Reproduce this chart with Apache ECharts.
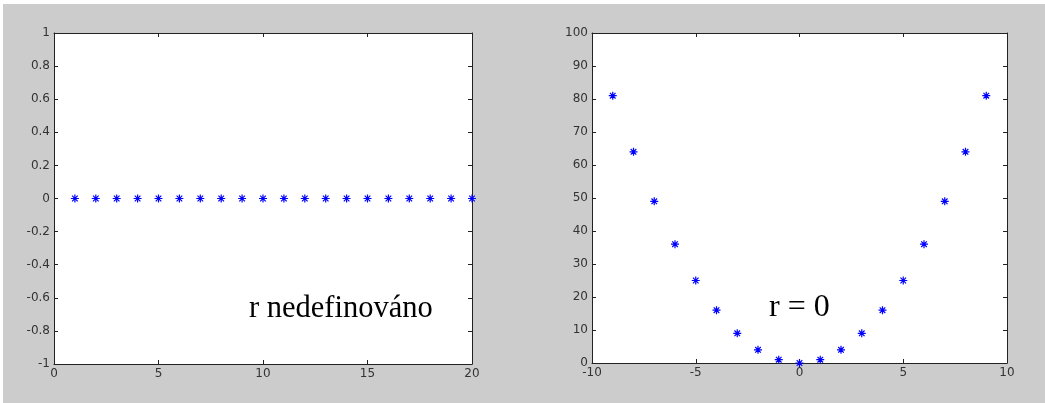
<!DOCTYPE html>
<html>
<head>
<meta charset="utf-8">
<script src="https://cdn.jsdelivr.net/npm/echarts@6/dist/echarts.min.js"></script>
<style>
  html, body { margin: 0; padding: 0; background: #ffffff; }
  #chart { width: 1045px; height: 403px; }
</style>
</head>
<body>
<div id="chart"></div>
<script>
// Left panel: constant function y = 0 sampled at x = 1..20
const leftX = [1, 2, 3, 4, 5, 6, 7, 8, 9, 10, 11, 12, 13, 14, 15, 16, 17, 18, 19, 20];
const leftY = [0, 0, 0, 0, 0, 0, 0, 0, 0, 0, 0, 0, 0, 0, 0, 0, 0, 0, 0, 0];
// Right panel: parabola y = x^2 sampled at x = -9..9
const rightX = [-9, -8, -7, -6, -5, -4, -3, -2, -1, 0, 1, 2, 3, 4, 5, 6, 7, 8, 9];
const rightY = [81, 64, 49, 36, 25, 16, 9, 4, 1, 0, 1, 4, 9, 16, 25, 36, 49, 64, 81];

// Axis ranges and tick steps
const leftXRange = { min: 0, max: 20, interval: 5 };
const leftYRange = { min: -1, max: 1, interval: 0.2 };
const rightXRange = { min: -10, max: 10, interval: 5 };
const rightYRange = { min: 0, max: 100, interval: 10 };

// Panel annotations
const leftNote = 'r nedefinováno';
const rightNote = 'r = 0';

const asterisk = 'path://M0,4L8,4M4,0L4,8M1.2,1.2L6.8,6.8M6.8,1.2L1.2,6.8';
const axisColor = '#222222';
const labelColor = '#333333';

function axis(type, grid, range, position, showLabel) {
  return Object.assign({
    type: 'value',
    gridIndex: grid,
    position: position,
    axisLine: { show: true, onZero: false, lineStyle: { color: axisColor, width: 1 } },
    axisTick: { show: true, inside: true, length: 4, lineStyle: { color: axisColor } },
    axisLabel: {
      show: showLabel,
      color: labelColor,
      fontFamily: 'DejaVu Sans, sans-serif',
      fontSize: 12,
      margin: 4,
      showMinLabel: true,
      showMaxLabel: true
    },
    splitLine: { show: false }
  }, range);
}

function pairs(xs, ys) {
  return xs.map((x, i) => [x, ys[i]]);
}

const chart = echarts.init(document.getElementById('chart'), null, { renderer: 'canvas' });

const markerStyle = { color: 'rgba(0,0,0,0)', borderColor: '#0000ff', borderWidth: 1.2, opacity: 1 };

chart.setOption({
  backgroundColor: '#cccccc',
  animation: false,
  grid: [
    { left: 54, top: 33, width: 418, height: 331, backgroundColor: '#ffffff', show: true, borderWidth: 0 },
    { left: 592, top: 33, width: 415, height: 330, backgroundColor: '#ffffff', show: true, borderWidth: 0 }
  ],
  xAxis: [
    axis('x', 0, leftXRange, 'bottom', true),
    axis('x', 0, leftXRange, 'top', false),
    axis('x', 1, rightXRange, 'bottom', true),
    axis('x', 1, rightXRange, 'top', false)
  ],
  yAxis: [
    axis('y', 0, leftYRange, 'left', true),
    axis('y', 0, leftYRange, 'right', false),
    axis('y', 1, rightYRange, 'left', true),
    axis('y', 1, rightYRange, 'right', false)
  ],
  series: [
    {
      type: 'scatter',
      xAxisIndex: 0,
      yAxisIndex: 0,
      data: pairs(leftX, leftY),
      symbol: asterisk,
      symbolSize: 8,
      clip: false,
      itemStyle: markerStyle,
      z: 5
    },
    {
      type: 'scatter',
      xAxisIndex: 2,
      yAxisIndex: 2,
      data: pairs(rightX, rightY),
      symbol: asterisk,
      symbolSize: 8,
      clip: false,
      itemStyle: markerStyle,
      z: 5
    }
  ],
  graphic: [
    { type: 'rect', left: 0, top: 0, shape: { width: 1045, height: 4 }, style: { fill: '#ffffff' }, silent: true },
    { type: 'rect', left: 0, top: 0, shape: { width: 3, height: 403 }, style: { fill: '#ffffff' }, silent: true },
    {
      type: 'text', left: 249, top: 293, z: 10,
      style: { text: leftNote, fontFamily: 'Liberation Serif, Times New Roman, serif', fontSize: 30.5, fill: '#000000' }
    },
    {
      type: 'text', left: 769, top: 292, z: 10,
      style: { text: rightNote, fontFamily: 'Liberation Serif, Times New Roman, serif', fontSize: 32, fill: '#000000' }
    }
  ]
});
</script>
</body>
</html>
